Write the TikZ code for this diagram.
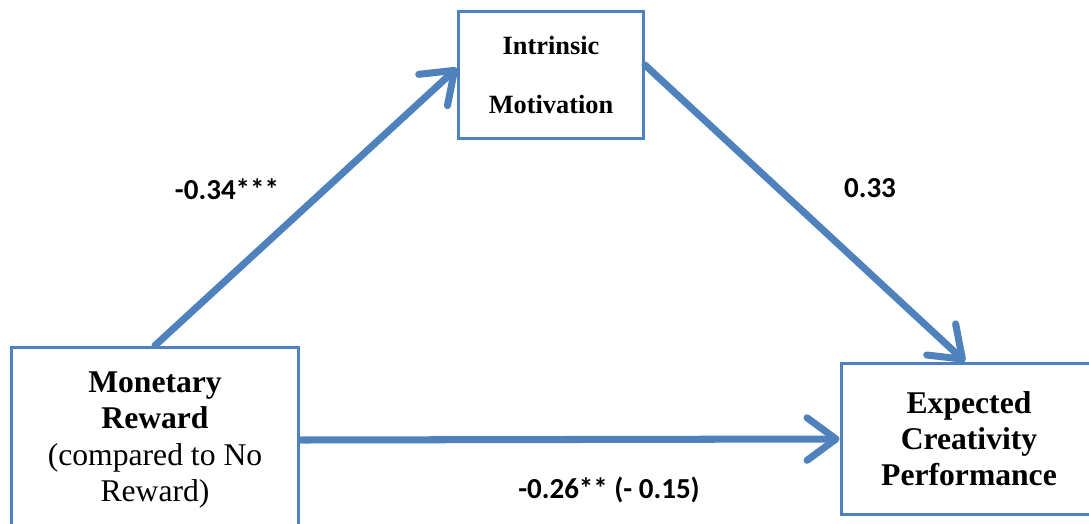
\documentclass[tikz,border=0pt]{standalone}
\usepackage{fontspec}
\setmainfont{Liberation Serif}
\newfontfamily\calib{Carlito}
\usetikzlibrary{positioning}
\usetikzlibrary{arrows.meta}
\definecolor{boxblue}{RGB}{79,129,189}
\tikzset{
    varbox/.style = {rectangle, draw=boxblue, line width=1.7pt, fill=white, align=center, font=\bfseries},
    edgeb/.style = {-{Straight Barb[length=0.58cm,width=0.85cm,round]}, line width=4pt, line cap=round, boxblue},
    coef/.style = {draw=none, font=\calib\fontsize{16.5}{20}\selectfont\bfseries}
}
\begin{document}
\begin{tikzpicture}[x=0.02cm,y=-0.02cm]
%
\useasboundingbox (0,0) rectangle (1089,524);
\clip (0,0) rectangle (1089,524);
\node[varbox, minimum width=3.7cm, minimum height=2.56cm,
      font=\fontsize{15}{34}\selectfont\bfseries] at (551,75) (imot) {Intrinsic\\Motivation};
\node[varbox, minimum width=5.76cm, minimum height=3.72cm,
      font=\fontsize{18}{20.5}\selectfont] at (155,440) (mrew) {\textbf{Monetary}\\\textbf{Reward}\\(compared to No\\Reward)};
\node[varbox, minimum width=5.12cm, minimum height=3.04cm,
      font=\fontsize{18}{20.5}\selectfont\bfseries] at (969,439) (ecp) {Expected\\Creativity\\Performance};
\node[coef] at (227,189) (ca) {-0.34***};
\node[coef] at (870,188) (cb) {0.33};
\node[coef] at (609,490) (cc) {-0.26** (- 0.15)};
%
\draw[edgeb] (mrew.north) -- ([yshift=0.14cm]imot.west);
\draw[edgeb] ([yshift=0.2cm]imot.east) -- ([xshift=-0.08cm]ecp.north);
\draw[edgeb] (mrew.east) -- (ecp.west);
\end{tikzpicture}
\end{document}
